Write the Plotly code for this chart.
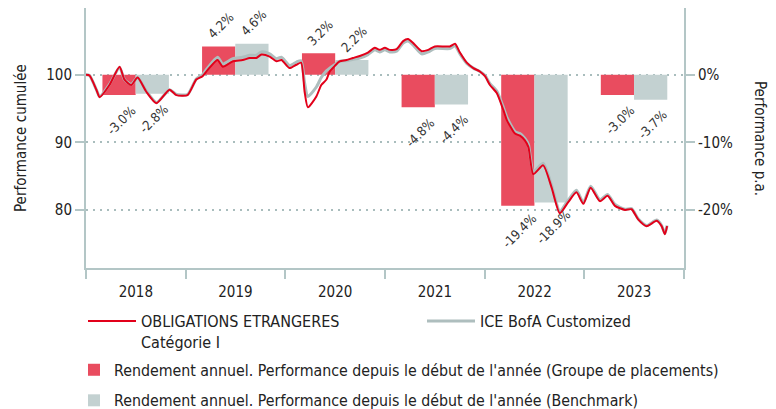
import pandas as pd
import plotly.graph_objects as go

# ---------------- data ----------------
dates = [
    "2018-01-01", "2018-01-14", "2018-02-08", "2018-02-20", "2018-03-28", "2018-05-04",
    "2018-05-22", "2018-06-16", "2018-07-09", "2018-08-10", "2018-09-16", "2018-11-03",
    "2018-11-28", "2019-01-08", "2019-02-09", "2019-03-04", "2019-03-22", "2019-04-28",
    "2019-05-17", "2019-06-23", "2019-07-29", "2019-08-24", "2019-09-17", "2019-10-06",
    "2019-11-05", "2019-11-30", "2019-12-18", "2020-01-17", "2020-02-11", "2020-02-28",
    "2020-03-12", "2020-03-24", "2020-04-24", "2020-05-12", "2020-05-31", "2020-06-12",
    "2020-06-30", "2020-07-18", "2020-08-12", "2020-09-05", "2020-09-30", "2020-10-30",
    "2020-11-24", "2020-12-12", "2020-12-31", "2021-01-18", "2021-02-12", "2021-03-08",
    "2021-03-26", "2021-04-14", "2021-05-15", "2021-06-08", "2021-07-02", "2021-08-26",
    "2021-09-14", "2021-10-02", "2021-10-27", "2021-11-20", "2021-12-14", "2022-01-02",
    "2022-01-20", "2022-02-14", "2022-03-10", "2022-03-23", "2022-04-22", "2022-05-10",
    "2022-05-28", "2022-06-10", "2022-06-28", "2022-08-03", "2022-09-03", "2022-10-03",
    "2022-11-02", "2022-12-03", "2022-12-28", "2023-01-24", "2023-02-27", "2023-03-27",
    "2023-04-23", "2023-05-30", "2023-06-23", "2023-07-17", "2023-08-17", "2023-09-23",
    "2023-10-11", "2023-10-23", "2023-10-31",
]
fund = [
    100.0, 99.9, 97.8, 96.7, 98.5, 101.2,
    99.3, 98.5, 99.6, 97.5, 95.8, 97.8,
    97.0, 97.0, 99.3, 99.8, 100.7, 102.2,
    101.2, 102.0, 102.2, 102.5, 102.5, 103.0,
    102.7, 102.0, 102.2, 101.0, 101.5, 101.8,
    97.5, 95.2, 96.8, 98.5, 99.3, 100.5,
    101.3, 102.0, 102.2, 102.5, 102.8, 103.3,
    104.0, 103.7, 104.0, 103.7, 103.8, 105.0,
    105.3, 104.7, 103.5, 103.7, 104.2, 104.2,
    104.6, 103.3, 101.8, 101.0, 100.5, 99.8,
    98.5, 97.3, 94.8, 93.3, 91.3, 91.0,
    90.3, 89.3, 85.3, 86.6, 83.3, 79.5,
    81.1, 82.6, 80.9, 83.3, 81.3, 82.1,
    80.6, 80.0, 80.1, 78.6, 77.6, 78.4,
    77.6, 76.4, 77.6,
]
bench = [
    100.0, 99.9, 97.8, 96.8, 98.6, 101.1,
    99.3, 98.6, 99.6, 97.6, 95.9, 97.8,
    97.1, 97.1, 99.4, 100.0, 101.0, 102.6,
    101.6, 102.4, 102.6, 102.9, 102.9, 103.4,
    103.1, 102.4, 102.6, 101.4, 101.9, 102.1,
    98.8, 96.8, 98.2, 99.6, 100.6, 101.0,
    101.5, 102.0, 102.1, 102.3, 102.5, 103.0,
    103.7, 103.4, 103.7, 103.4, 103.5, 104.7,
    105.0, 104.4, 103.1, 103.4, 103.9, 103.9,
    104.3, 103.1, 101.7, 101.0, 100.5, 99.9,
    98.7, 97.6, 95.2, 93.7, 91.6, 91.3,
    90.6, 89.7, 85.7, 86.9, 83.6, 79.8,
    81.4, 82.9, 81.1, 83.5, 81.5, 82.3,
    80.8, 80.1, 80.2, 78.7, 77.7, 78.5,
    77.7, 76.5, 77.7,
]
years = ["2018", "2019", "2020", "2021", "2022", "2023"]
ytd_fund = [-3.0, 4.2, 3.2, -4.8, -19.4, -3.0]
ytd_bench = [-2.8, 4.6, 2.2, -4.4, -18.9, -3.7]

left_ticks = [80, 90, 100]
right_ticks = [-20, -10, 0]
right_ticktext = ["-20%", "-10%", "0%"]

name_fund = "OBLIGATIONS ETRANGERES<br>Catégorie I"
name_bench = "ICE BofA Customized"
name_bar_fund = "Rendement annuel. Performance depuis le début de l'année (Groupe de placements)"
name_bar_bench = "Rendement annuel. Performance depuis le début de l'année (Benchmark)"

# ---------------- styling ----------------
FONT = "Tahoma, 'DejaVu Sans Condensed', 'Liberation Sans', Arial, sans-serif"
AXIS = "#B3C6C6"
RED_LINE = "#E2001A"
GRAY_LINE = "#AEBEBE"
RED_BAR = "#E94C5F"
GRAY_BAR = "#C3D1D1"
TXT = "#222222"

W, H = 768, 401          # page body adds an 8px offset
PL, PR, PT, PB = 78, 92, 0, 141
PW = W - PL - PR

third = pd.Timedelta(days=365.25 / 3)
bar_w = third.total_seconds() * 1000
bar_x = [f"{y}-07-02" for y in years]
red_centers = [(pd.Timestamp(f"{y}-01-01") + third).strftime("%Y-%m-%d %H:%M") for y in years]
gray_centers = [(pd.Timestamp(f"{y}-01-01") + 2 * third).strftime("%Y-%m-%d %H:%M") for y in years]

fig = go.Figure()
fig.add_trace(go.Bar(
    x=bar_x, y=ytd_fund, yaxis="y", name=name_bar_fund,
    marker=dict(color=RED_BAR, line=dict(width=0)),
    width=[bar_w] * len(years), offset=[-bar_w] * len(years),
    legend="legend2", legendgroup="g1", hoverinfo="skip",
))
fig.add_trace(go.Bar(
    x=bar_x, y=ytd_bench, yaxis="y", name=name_bar_bench,
    marker=dict(color=GRAY_BAR, line=dict(width=0)),
    width=[bar_w] * len(years), offset=[0] * len(years),
    legend="legend2", legendgroup="g2", hoverinfo="skip",
))
fig.add_trace(go.Scatter(
    x=dates, y=bench, yaxis="y2", mode="lines", name=name_bench,
    line=dict(color=GRAY_LINE, width=3, shape="spline", smoothing=0.6),
    legend="legend3",
))
fig.add_trace(go.Scatter(
    x=dates, y=fund, yaxis="y2", mode="lines", name=name_fund,
    line=dict(color=RED_LINE, width=2, shape="spline", smoothing=0.6),
    legend="legend",
))

annotations = []
for xs, vals in ((red_centers, ytd_fund), (gray_centers, ytd_bench)):
    for xc, v in zip(xs, vals):
        annotations.append(dict(
            x=xc, y=v, xref="x", yref="y", text=f"{v:.1f}%",
            textangle=-45, showarrow=False, xanchor="center", yanchor="middle",
            xshift=2, yshift=21 if v >= 0 else -25,
            font=dict(size=13, color="#333333", family=FONT),
        ))
annotations += [
    dict(text="Performance cumulée", xref="paper", yref="paper",
         x=(21 - 86) / PW, y=0.5, textangle=-90, showarrow=False,
         font=dict(size=15, color=TXT), xanchor="center", yanchor="middle"),
    dict(text="Performance p.a.", xref="paper", yref="paper",
         x=(760 - 86) / PW, y=0.5, textangle=90, showarrow=False,
         font=dict(size=15, color=TXT), xanchor="center", yanchor="middle"),
]

line_legend = dict(
    orientation="v", xref="container", yref="container",
    yanchor="top", xanchor="left", valign="top", itemwidth=48,
    font=dict(size=16, color=TXT), bgcolor="rgba(0,0,0,0)",
)

fig.update_layout(
    width=W, height=H,
    margin=dict(l=PL, r=PR, t=PT, b=PB, autoexpand=False),
    paper_bgcolor="white", plot_bgcolor="white",
    font=dict(family=FONT, size=15, color=TXT),
    barmode="overlay",
    showlegend=True,
    xaxis=dict(
        type="date", range=["2018-01-01", "2024-01-01"],
        tick0="2018-01-01", dtick="M12", ticklabelmode="period", tickformat="%Y",
        ticks="outside", ticklen=9, tickwidth=2, tickcolor=AXIS,
        showline=True, linecolor=AXIS, linewidth=2,
        showgrid=False, zeroline=False,
        tickfont=dict(size=15, color=TXT),
    ),
    yaxis=dict(
        range=[-28.6, 9.9], side="right",
        tickvals=right_ticks, ticktext=right_ticktext,
        ticks="outside", ticklen=9, tickwidth=2, tickcolor=AXIS,
        showline=True, linecolor=AXIS, linewidth=2,
        showgrid=True, gridcolor="#A9BDBD", gridwidth=2, griddash="2px,5px",
        zeroline=False, tickfont=dict(size=15, color=TXT),
    ),
    yaxis2=dict(
        range=[71.4, 109.9], overlaying="y", side="left",
        tickvals=left_ticks,
        ticks="outside", ticklen=9, tickwidth=2, tickcolor=AXIS,
        showline=True, linecolor=AXIS, linewidth=2,
        showgrid=False, zeroline=False, tickfont=dict(size=15, color=TXT),
    ),
    legend=dict(line_legend, x=75 / W, y=1 - 296 / H),
    legend3=dict(line_legend, x=414 / W, y=1 - 296 / H),
    legend2=dict(
        orientation="v", xref="container", yref="container",
        x=66 / W, y=1 - 345 / H, xanchor="left", yanchor="top",
        font=dict(size=15.8, color=TXT), bgcolor="rgba(0,0,0,0)",
        traceorder="grouped", tracegroupgap=7,
    ),
    annotations=annotations,
)

fig.write_html("out.html")
